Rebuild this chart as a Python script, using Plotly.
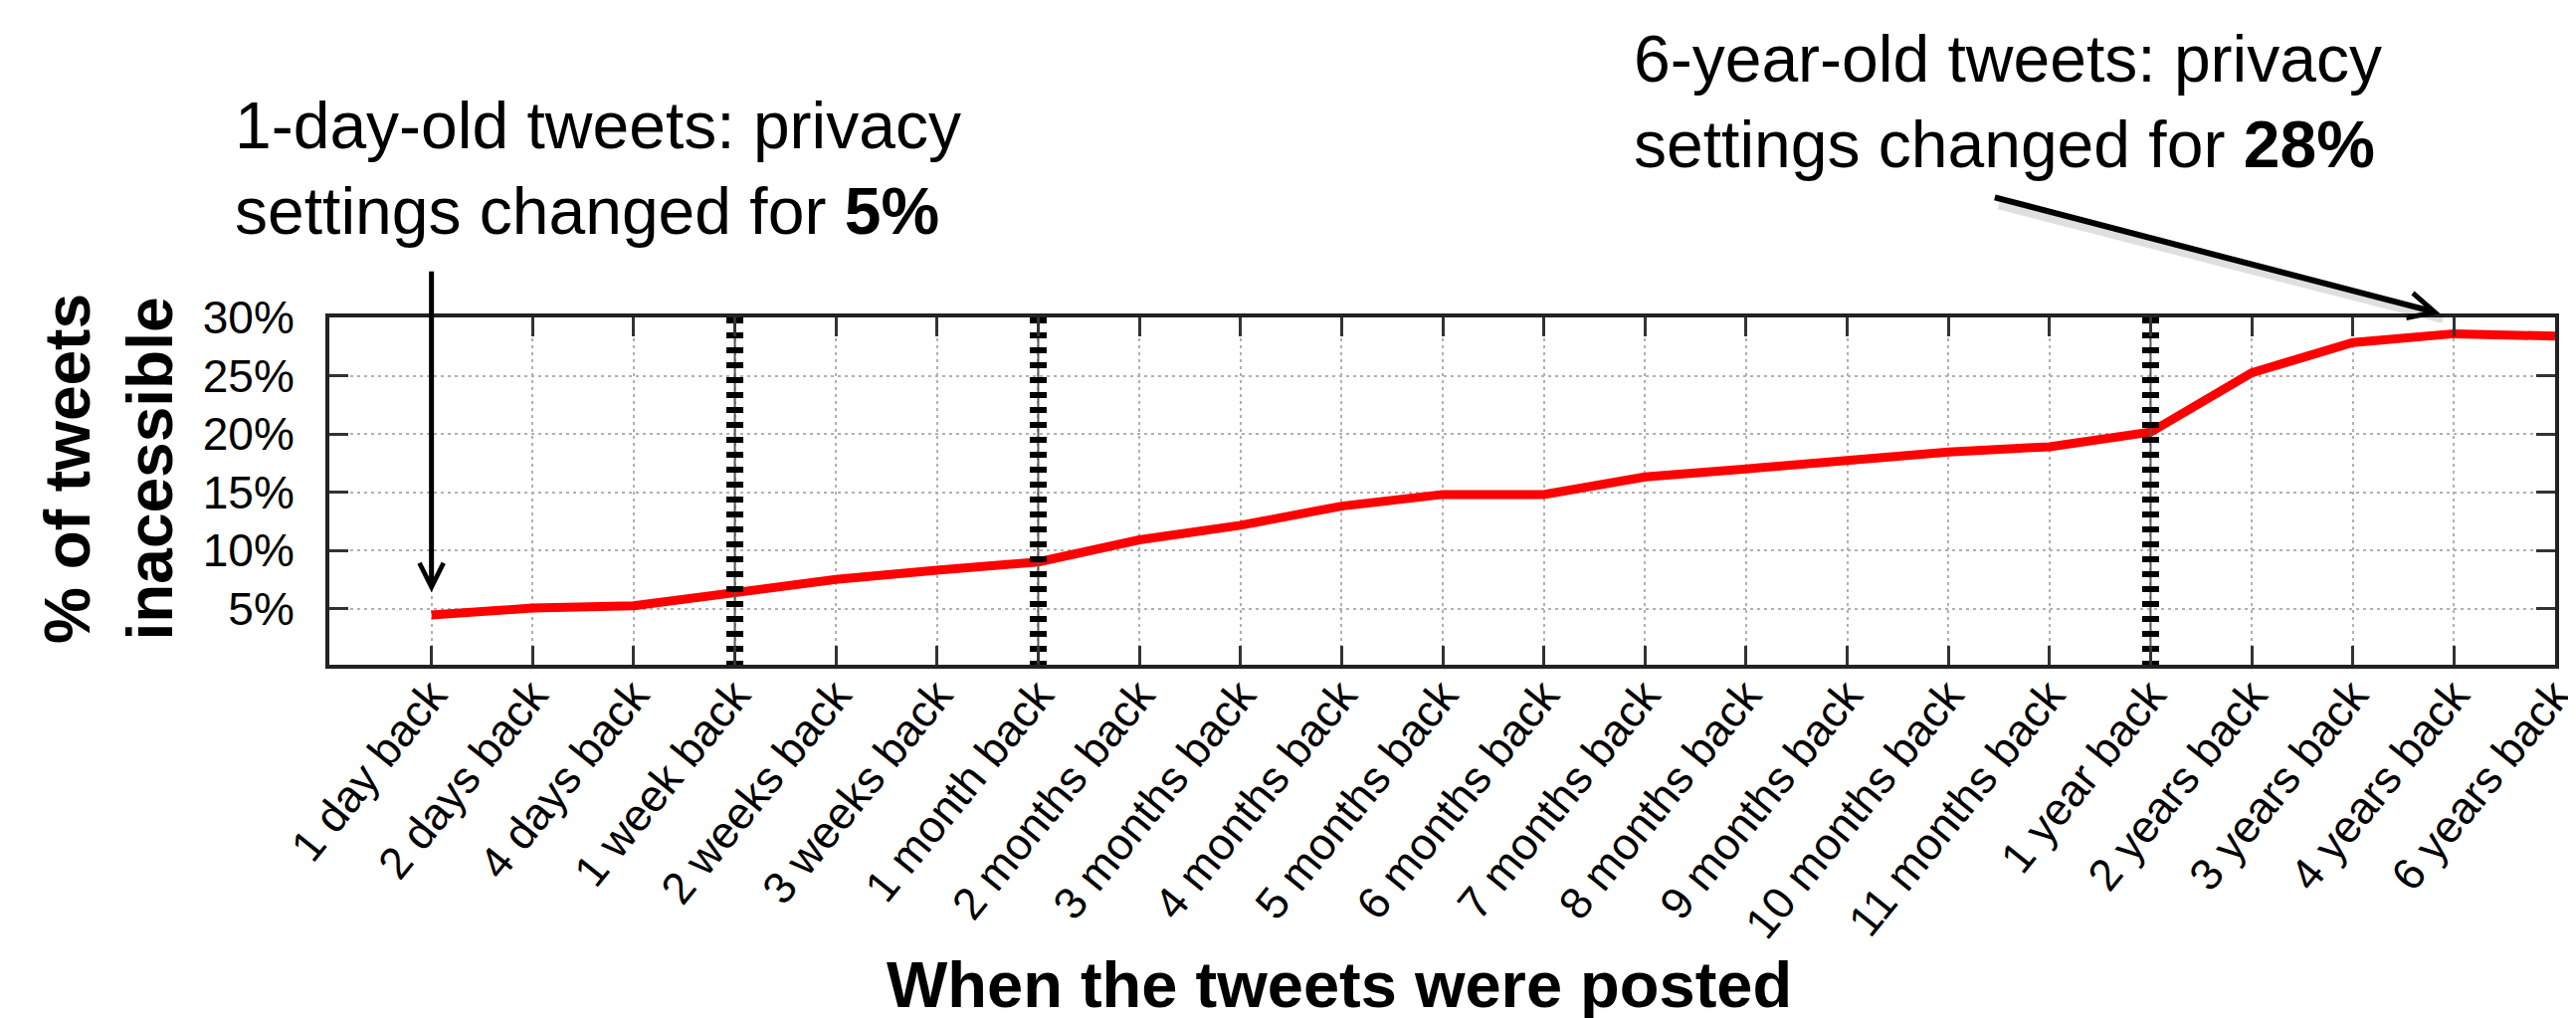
import plotly.graph_objects as go

# ---- data ----
categories = ["1 day back", "2 days back", "4 days back", "1 week back", "2 weeks back",
              "3 weeks back", "1 month back", "2 months back", "3 months back", "4 months back",
              "5 months back", "6 months back", "7 months back", "8 months back", "9 months back",
              "10 months back", "11 months back", "1 year back", "2 years back", "3 years back",
              "4 years back", "6 years back"]
pct_inaccessible = [4.45, 5.05, 5.25, 6.3, 7.5, 8.3, 9.0, 10.9, 12.15, 13.8, 14.8, 14.8,
                    16.3, 17.0, 17.75, 18.45, 18.9, 20.15, 25.25, 27.85, 28.6, 28.4]
marker_categories = ["1 week back", "1 month back", "1 year back"]
y_tick_vals = [5, 10, 15, 20, 25, 30]
y_tick_text = ["5%", "10%", "15%", "20%", "25%", "30%"]

FONT = "Liberation Sans, Arial, sans-serif"

fig = go.Figure()

fig.add_trace(go.Scatter(x=categories, y=pct_inaccessible, mode="lines",
                         line=dict(color="#ff0000", width=9), showlegend=False,
                         hoverinfo="skip"))

for c in marker_categories:
    fig.add_trace(go.Scatter(x=[c, c], y=[0, 30.5], mode="lines",
                             line=dict(color="#555555", width=2), showlegend=False,
                             hoverinfo="skip"))
    fig.add_trace(go.Scatter(x=[c, c], y=[0, 30.5], mode="lines",
                             line=dict(color="#000000", width=17, dash="6px,9px"),
                             showlegend=False, hoverinfo="skip"))

fig.update_layout(
    width=2589, height=1023,
    margin=dict(l=323, r=3, t=311, b=363),
    paper_bgcolor="white", plot_bgcolor="white",
    font=dict(family=FONT, color="black"),
)

fig.update_xaxes(
    type="category", categoryorder="array", categoryarray=categories,
    range=[-1.01, 21], showline=True, linewidth=4, linecolor="#222222", mirror="allticks",
    ticks="inside", ticklen=19, tickwidth=3, tickcolor="#333333",
    showgrid=True, gridcolor="#b0b0b0", gridwidth=2, griddash="3px,4px",
    tickangle=-51, tickfont=dict(family=FONT, size=45, color="black"),
    ticklabelstandoff=-18, zeroline=False,
)
fig.update_yaxes(
    range=[0.18, 30], tickvals=y_tick_vals, ticktext=y_tick_text,
    showline=True, linewidth=4, linecolor="#222222", mirror="allticks",
    ticks="inside", ticklen=19, tickwidth=3, tickcolor="#333333",
    showgrid=True, gridcolor="#b0b0b0", gridwidth=2, griddash="3px,4px",
    tickfont=dict(family=FONT, size=46, color="black"),
    ticklabelstandoff=22, zeroline=False,
)

# axis titles
fig.add_annotation(text="<b>When the tweets were posted</b>", xref="paper", yref="paper",
                   x=0.4538, y=-0.9226, xanchor="center", yanchor="middle", showarrow=False,
                   font=dict(family=FONT, size=65, color="black"))
fig.add_annotation(text="<b>% of tweets<br>inacessible</b>", xref="paper", yref="paper",
                   x=-0.099, y=0.563, xanchor="center", yanchor="middle", showarrow=False,
                   textangle=-90, font=dict(family=FONT, size=64, color="black"))

# callout texts
fig.add_annotation(text="1-day-old tweets: privacy<br>settings changed for <b>5%</b>",
                   xref="paper", yref="paper", x=-0.0435, y=1.430, xanchor="left",
                   yanchor="middle", align="left", showarrow=False,
                   font=dict(family=FONT, size=66, color="black"))
fig.add_annotation(text="6-year-old tweets: privacy<br>settings changed for <b>28%</b>",
                   xref="paper", yref="paper", x=0.585, y=1.622, xanchor="left",
                   yanchor="middle", align="left", showarrow=False,
                   font=dict(family=FONT, size=66, color="black"))

# arrows
fig.add_annotation(text="", x=categories[0], y=6.4, xref="x", yref="y",
                   ax=0, ay=-324, axref="pixel", ayref="pixel", showarrow=True,
                   arrowhead=5, arrowwidth=5, arrowsize=0.95, arrowcolor="black")
fig.add_annotation(text="", x=0.9496, y=0.9943, xref="paper", yref="paper",
                   ax=-448, ay=-115, axref="pixel", ayref="pixel", showarrow=True,
                   arrowhead=0, arrowwidth=8, arrowcolor="rgba(0,0,0,0.12)")
fig.add_annotation(text="", x=0.9483, y=1.0115, xref="paper", yref="paper",
                   ax=-449, ay=-117, axref="pixel", ayref="pixel", showarrow=True,
                   arrowhead=5, arrowwidth=6, arrowsize=0.85, arrowcolor="black")

fig.write_html("out.html")
